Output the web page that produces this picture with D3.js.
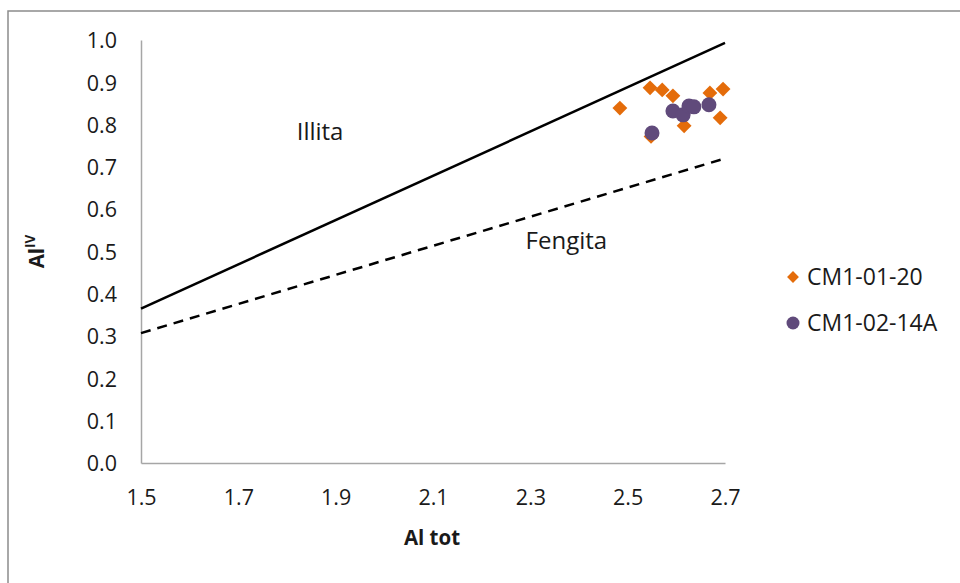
<!DOCTYPE html>
<html>
<head>
<meta charset="utf-8">
<script src="https://cdn.jsdelivr.net/npm/d3@7"></script>
<style>
  html, body { margin: 0; padding: 0; background: #fff; }
  svg { display: block; font-family: "Open Sans", "Liberation Sans", Arial, sans-serif; }
</style>
</head>
<body>
<svg id="chart" width="960" height="583"></svg>
<script>
// Sample CM1-01-20 (orange diamonds)
const cm10120X = [2.484, 2.546, 2.571, 2.593, 2.548, 2.616, 2.669, 2.696, 2.690];
const cm10120Y = [0.839, 0.887, 0.882, 0.868, 0.772, 0.797, 0.875, 0.884, 0.816];

// Sample CM1-02-14A (purple circles)
const cm10214X = [2.550, 2.593, 2.614, 2.626, 2.636, 2.667];
const cm10214Y = [0.780, 0.832, 0.823, 0.844, 0.842, 0.847];

// Field boundary lines
const illitaLineX = [1.5, 2.7];
const illitaLineY = [0.365, 0.993];
const fengitaLineX = [1.5, 2.7];
const fengitaLineY = [0.307, 0.720];

// Axis ticks
const xTicks = [1.5, 1.7, 1.9, 2.1, 2.3, 2.5, 2.7];
const yTicks = [0.0, 0.1, 0.2, 0.3, 0.4, 0.5, 0.6, 0.7, 0.8, 0.9, 1.0];

const seriesNames = ["CM1-01-20", "CM1-02-14A"];
const orange = "#E46C0A";
const purple = "#604A7B";
const textColor = "#1a1a1a";
const fontFam = "'Open Sans', 'Liberation Sans', Arial, sans-serif";

const svg = d3.select("#chart");

// chart-area frame
svg.append("rect")
  .attr("x", 8).attr("y", 11)
  .attr("width", 980).attr("height", 600)
  .attr("fill", "#fff")
  .attr("stroke", "#8c8c8c").attr("stroke-width", 1.5);

const x = d3.scaleLinear().domain([1.5, 2.7]).range([141, 725]);
const y = d3.scaleLinear().domain([0, 1]).range([463, 40]);

// axes
const xAxis = d3.axisBottom(x).tickValues(xTicks).tickSize(0).tickPadding(27)
  .tickFormat(d3.format(".1f"));
const yAxis = d3.axisLeft(y).tickValues(yTicks).tickSize(0).tickPadding(24)
  .tickFormat(d3.format(".1f"));

const gx = svg.append("g").attr("transform", `translate(0,${y(0)})`).call(xAxis);
const gy = svg.append("g").attr("transform", `translate(${x(1.5)},0)`).call(yAxis);
[gx, gy].forEach(g => {
  g.select(".domain").attr("stroke", "#a6a6a6").attr("stroke-width", 1.5);
  g.selectAll("text").attr("font-size", 21.5).attr("fill", textColor)
    .attr("font-family", fontFam);
});
gx.selectAll("text").attr("dy", "0.68em");
gy.selectAll("text").attr("dy", "0.36em");

// boundary lines
const line = d3.line().x(d => x(d[0])).y(d => y(d[1]));
svg.append("path")
  .attr("d", line(d3.zip(illitaLineX, illitaLineY)))
  .attr("fill", "none").attr("stroke", "#000").attr("stroke-width", 2.5);
svg.append("path")
  .attr("d", line(d3.zip(fengitaLineX, fengitaLineY)))
  .attr("fill", "none").attr("stroke", "#000").attr("stroke-width", 2.5)
  .attr("stroke-dasharray", "10,7");

// field labels
svg.append("text").attr("x", x(1.868)).attr("y", y(0.785))
  .attr("text-anchor", "middle").attr("font-size", 24).attr("fill", textColor)
  .attr("dy", "0.36em").text("Illita");
svg.append("text").attr("x", x(2.374)).attr("y", y(0.527))
  .attr("text-anchor", "middle").attr("font-size", 24).attr("fill", textColor)
  .attr("dy", "0.36em").text("Fengita");

// markers
const diamond = d3.symbol().type(d3.symbolSquare).size(110);
svg.append("g").selectAll("path")
  .data(d3.zip(cm10120X, cm10120Y))
  .join("path")
  .attr("d", diamond)
  .attr("transform", d => `translate(${x(d[0])},${y(d[1])}) rotate(45)`)
  .attr("fill", orange);

svg.append("g").selectAll("circle")
  .data(d3.zip(cm10214X, cm10214Y))
  .join("circle")
  .attr("cx", d => x(d[0])).attr("cy", d => y(d[1]))
  .attr("r", 7.5)
  .attr("fill", purple);

// axis titles
svg.append("text").attr("x", x(2.1) - 1).attr("y", 545)
  .attr("text-anchor", "middle").attr("font-size", 20.5).attr("font-weight", "bold")
  .attr("fill", textColor).text("Al tot");

const yt = svg.append("text")
  .attr("transform", `translate(44,${y(0.5)}) rotate(-90)`)
  .attr("text-anchor", "middle").attr("font-size", 20.5).attr("font-weight", "bold")
  .attr("fill", textColor);
yt.append("tspan").text("Al");
yt.append("tspan").attr("font-size", 13.5).attr("dy", "-0.7em").text("IV");

// legend
const legend = svg.append("g");
legend.append("path")
  .attr("d", d3.symbol().type(d3.symbolSquare).size(70))
  .attr("transform", "translate(793,277) rotate(45)")
  .attr("fill", orange);
legend.append("circle").attr("cx", 793).attr("cy", 323).attr("r", 6.5).attr("fill", purple);
legend.selectAll("text")
  .data(seriesNames)
  .join("text")
  .attr("x", 807).attr("y", (d, i) => 277 + i * 46)
  .attr("dy", "0.36em").attr("font-size", 23).attr("fill", textColor)
  .attr("font-family", fontFam)
  .text(d => d);
</script>
</body>
</html>
